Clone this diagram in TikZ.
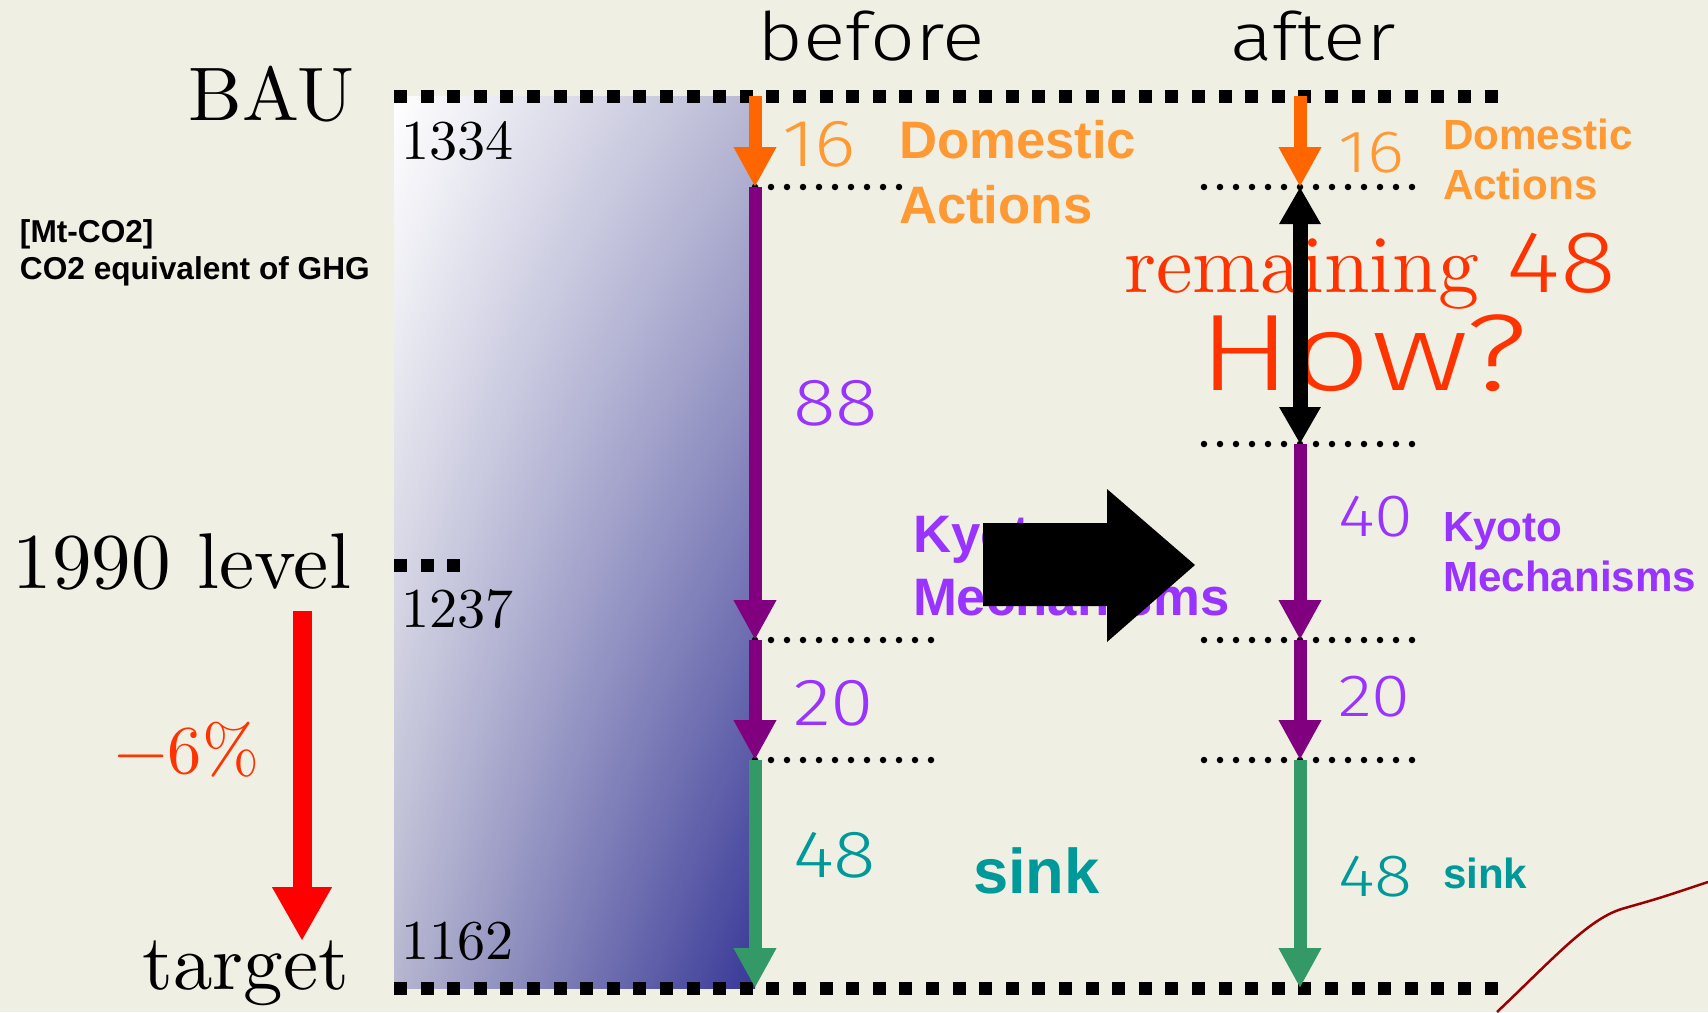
\documentclass[tikz,border=0pt]{standalone}
\usepackage{fontspec}
\usepackage{tikz}
\usetikzlibrary{arrows.meta, shadings}
\setmainfont{lmroman10-regular}[Extension=.otf]
\newfontfamily\thinsans{Fira Sans Light}[FakeStretch=1.18]
\newfontfamily\widethin{Fira Sans Light}[FakeStretch=1.28]
\newfontfamily\labelsans{Liberation Sans}
\pgfdeclarelayer{bg}
\pgfsetlayers{bg,main}
\definecolor{paper}{RGB}{240,239,228}
\definecolor{domestic}{RGB}{255,102,0}
\definecolor{domestictext}{RGB}{255,153,51}
\definecolor{kyoto}{RGB}{128,0,128}
\definecolor{kyototext}{RGB}{153,51,255}
\definecolor{sink}{RGB}{51,153,102}
\definecolor{sinktext}{RGB}{0,153,153}
\definecolor{alert}{RGB}{255,51,0}
\definecolor{boxtr}{RGB}{184,184,212}
\definecolor{boxbl}{RGB}{182,182,208}
\definecolor{boxbr}{RGB}{56,56,152}
\tikzset{every node/.style={inner sep=0mm, outer sep=0mm}}
\tikzset{
    level/.style={line width=1.3mm, dash pattern=on 1.3mm off 1.36mm},
    sublevel/.style={line width=0.65mm, line cap=round, dash pattern=on 0mm off 1.6mm},
    flow/.style={line width=1.3mm, -{Triangle[width=4mm, length=4mm]}},
    bigserif/.style={font=\fontsize{22.5}{26}\selectfont},
    amount/.style={font=\fontsize{16}{18}\selectfont},
    thinnum/.style={font=\thinsans\fontsize{19}{22}\selectfont},
    thinsmall/.style={font=\thinsans\fontsize{17}{20}\selectfont},
    kind/.style={font=\labelsans\bfseries\fontsize{15}{17}\selectfont, align=left},
    kindsmall/.style={font=\labelsans\bfseries\fontsize{12}{14}\selectfont, align=left}
}
\begin{document}
\begin{tikzpicture}
        \useasboundingbox (0cm, 0cm) rectangle (17.08cm, 10.12cm);
        % levels of the before column
        \coordinate (b0) at (7.55cm, 9.16cm);
        \coordinate (b1) at (7.55cm, 8.25cm);
        \coordinate (b2) at (7.55cm, 3.72cm);
        \coordinate (b3) at (7.55cm, 2.52cm);
        \coordinate (b4) at (7.55cm, 0.24cm);
        % levels of the after column
        \coordinate (a0) at (13.00cm, 9.16cm);
        \coordinate (a1) at (13.00cm, 8.25cm);
        \coordinate (a2) at (13.00cm, 5.68cm);
        \coordinate (a3) at (13.00cm, 3.72cm);
        \coordinate (a4) at (13.00cm, 2.52cm);
        \coordinate (a5) at (13.00cm, 0.24cm);
        \coordinate (bauL) at (3.94cm, 9.16cm);
        \coordinate (bauR) at (14.98cm, 9.16cm);
        \coordinate (tgtL) at (3.94cm, 0.24cm);
        \coordinate (tgtR) at (14.98cm, 0.24cm);
        \coordinate (oldL) at (3.94cm, 4.47cm);
        \coordinate (oldR) at (4.60cm, 4.47cm);
        \coordinate (cut0) at (3.02cm, 4.01cm);
        \coordinate (cut1) at (3.02cm, 0.71cm);
        \begin{pgfonlayer}{bg}
                \fill[paper] (0cm, 0cm) rectangle (17.08cm, 10.12cm);
                \draw[red!60!black, line width=0.25mm] (14.97cm, 0cm) .. controls (15.55cm, 0.55cm) and (15.9cm, 0.95cm) .. (16.25cm, 1.04cm) .. controls (16.6cm, 1.14cm) .. (17.08cm, 1.30cm);
                \shade[upper left=white, upper right=boxtr, lower left=boxbl, lower right=boxbr] (bauL) rectangle (b4);
        \end{pgfonlayer}
        \node (bau) [font=\fontsize{21.6}{24}\selectfont, anchor=base east] at (3.54cm, 8.92cm) {BAU};
        \node (old) [bigserif, anchor=base east] at (3.51cm, 4.24cm) {1990 level};
        \node (tgt) [bigserif, anchor=base east] at (3.49cm, 0.23cm) {target};
        \node (v1334) [amount, anchor=base west] at (4.01cm, 8.53cm) {1334};
        \node (v1237) [amount, anchor=base west] at (4.01cm, 3.85cm) {1237};
        \node (v1162) [amount, anchor=base west] at (4.01cm, 0.53cm) {1162};
        \node (unit) [font=\labelsans\bfseries\fontsize{9}{10.5}\selectfont, align=left, anchor=base west] at (0.20cm, 7.33cm) {[Mt-CO2]\\CO2 equivalent of GHG};
        \node (cut) [text=alert, font=\fontsize{19.5}{22}\selectfont, anchor=base] at (1.87cm, 2.39cm) {−6\%};
        \node (before) [font=\thinsans\fontsize{19}{22}\selectfont, anchor=base] at (8.71cm, 9.52cm) {before};
        \node (after) [font=\thinsans\fontsize{19}{22}\selectfont, anchor=base] at (13.13cm, 9.52cm) {after};
        % before: amounts and kinds
        \node (bDom) [thinnum, text=domestictext, anchor=base west] at (7.82cm, 8.46cm) {16};
        \node (bDomL) [kind, text=domestictext, anchor=base west] at (8.99cm, 8.54cm) {Domestic};
        \node (bDomL2) [kind, text=domestictext, anchor=base west] at (8.99cm, 7.89cm) {Actions};
        \node (bKyo) [thinnum, text=kyototext, anchor=base west] at (7.93cm, 5.87cm) {88};
        \node (bKyoL) [kind, text=kyototext, anchor=base west] at (9.13cm, 4.60cm) {Kyoto};
        \node (bKyoL2) [kind, text=kyototext, anchor=base west] at (9.13cm, 3.97cm) {Mechanisms};
        \node (bKyo2) [thinnum, text=kyototext, anchor=base west] at (7.93cm, 2.87cm) {20};
        \node (bSnk) [thinnum, text=sinktext, anchor=base west] at (7.93cm, 1.35cm) {48};
        \node (bSnkL) [kind, font=\labelsans\bfseries\fontsize{18}{20}\selectfont, text=sinktext, anchor=base west] at (9.73cm, 1.19cm) {sink};
        % after: amounts and kinds
        \node (aDom) [thinsmall, text=domestictext, anchor=base west] at (13.38cm, 8.40cm) {16};
        \node (aDomL) [kindsmall, text=domestictext, anchor=base west] at (14.43cm, 8.63cm) {Domestic};
        \node (aDomL2) [kindsmall, text=domestictext, anchor=base west] at (14.43cm, 8.13cm) {Actions};
        \node (aKyo) [thinsmall, text=kyototext, anchor=base west] at (13.38cm, 4.76cm) {40};
        \node (aKyoL) [kindsmall, text=kyototext, anchor=base west] at (14.43cm, 4.71cm) {Kyoto};
        \node (aKyoL2) [kindsmall, text=kyototext, anchor=base west] at (14.43cm, 4.21cm) {Mechanisms};
        \node (aKyo2) [thinsmall, text=kyototext, anchor=base west] at (13.38cm, 2.96cm) {20};
        \node (aSnk) [thinsmall, text=sinktext, anchor=base west] at (13.38cm, 1.16cm) {48};
        \node (aSnkL) [kindsmall, text=sinktext, anchor=base west] at (14.43cm, 1.24cm) {sink};
        \node (rest) [text=alert, font=\fontsize{23.3}{26}\selectfont, anchor=base west] at (11.24cm, 7.20cm) {remaining {\thinsans\fontsize{25}{28}\selectfont 48}};
        \node (how) [text=alert, font=\widethin\fontsize{31}{34}\selectfont, anchor=base west] at (11.98cm, 6.22cm) {How?};
        % dotted levels
        \draw[level] (bauL) -- (bauR);
        \draw[level] (tgtL) -- (tgtR);
        \draw[level] (oldL) -- (oldR);
        \draw[sublevel] (b1) -- ++(1.47cm, 0cm);
        \draw[sublevel] (b2) -- ++(1.78cm, 0cm);
        \draw[sublevel] (b3) -- ++(1.78cm, 0cm);
        \foreach \l in {a1, a2, a3, a4}
                \draw[sublevel] ([xshift=-0.96cm]\l) -- ([xshift=1.20cm]\l);
        % flows
        \draw[flow, domestic] (b0) -- (b1);
        \draw[flow, kyoto] (b1) -- (b2);
        \draw[flow, kyoto] (b2) -- (b3);
        \draw[flow, sink] (b3) -- (b4);
        \draw[flow, domestic] (a0) -- (a1);
        \draw[line width=1.5mm, {Triangle[width=3.9mm, length=3.7mm]}-{Triangle[width=3.9mm, length=3.7mm]}] (a1) -- (a2);
        \draw[flow, kyoto] (a2) -- (a3);
        \draw[flow, kyoto] (a3) -- (a4);
        \draw[flow, sink] (a4) -- (a5);
        \draw[line width=1.9mm, red, -{Triangle[width=5.6mm, length=5.4mm]}] (cut0) -- (cut1);
        % block arrow from before to after
        \fill (9.83cm, 4.89cm) -- (11.07cm, 4.89cm) -- (11.07cm, 5.23cm) -- (11.95cm, 4.47cm) -- (11.07cm, 3.70cm) -- (11.07cm, 4.06cm) -- (9.83cm, 4.06cm) -- cycle;
\end{tikzpicture}
\end{document}
